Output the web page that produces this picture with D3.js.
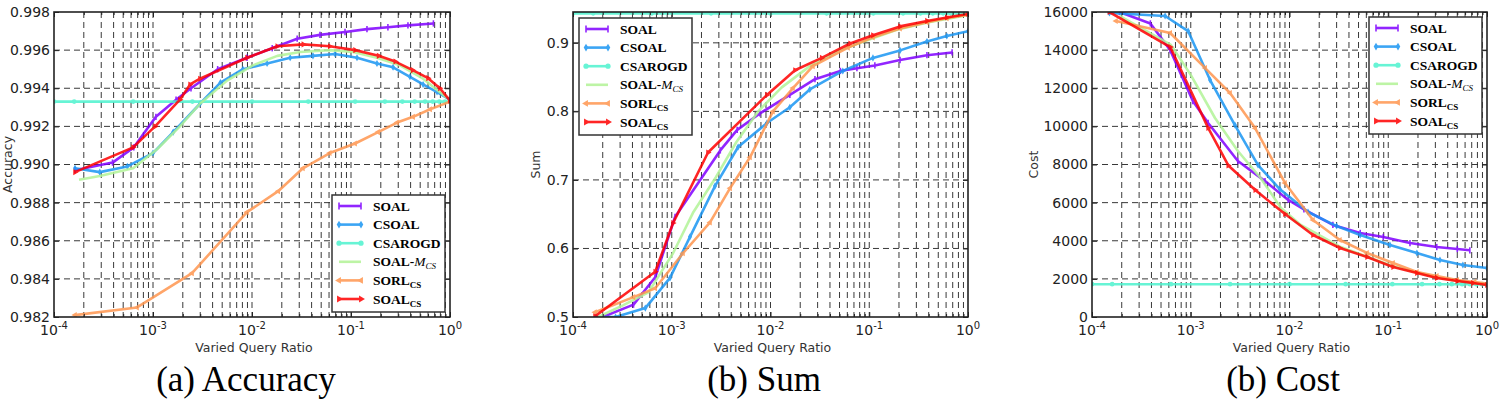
<!DOCTYPE html>
<html><head><meta charset="utf-8">
<script src="https://cdn.jsdelivr.net/npm/d3@7"></script>
<style>body{margin:0;background:#fff}svg{display:block}</style>
</head><body>
<svg id="c" width="1510" height="404"></svg>
<script>
// ---------------- data ----------------
const seriesNames = ["SOAL", "CSOAL", "CSAROGD", "SOAL-M_CS", "SORL_CS", "SOAL_CS"];
const xDecades = [1e-4, 1e-3, 1e-2, 1e-1, 1];
const xTickExponents = ["-4", "-3", "-2", "-1", "0"];
const accTicks = [0.982, 0.984, 0.986, 0.988, 0.990, 0.992, 0.994, 0.996, 0.998];
const sumTicks = [0.5, 0.6, 0.7, 0.8, 0.9];
const costTicks = [0, 2000, 4000, 6000, 8000, 10000, 12000, 14000, 16000];
const panelTitles = ["(a) Accuracy", "(b) Sum", "(b) Cost"];
const yLabels = ["Accuracy", "Sum", "Cost"];
const xLabel = "Varied Query Ratio";

// (a) Accuracy  [query ratio, value]
const accSOAL = [[1.63e-4,0.9897],[3.9e-4,0.9901],[6.4e-4,0.9909],[1.07e-3,0.9925],[1.71e-3,0.9934],[2.42e-3,0.9940],[4.5e-3,0.9950],[8.9e-3,0.9956],[1.6e-2,0.9961],[2.86e-2,0.9966],[4.86e-2,0.9968],[8.7e-2,0.99695],[1.45e-1,0.9971],[2.36e-1,0.9972],[3.76e-1,0.9973],[6.8e-1,0.9974]];
const accCSOAL = [[1.63e-4,0.9898],[2.9e-4,0.9896],[5.5e-4,0.9899],[1.0e-3,0.9906],[1.6e-3,0.9917],[3.0e-3,0.9932],[4.8e-3,0.9943],[8.1e-3,0.9950],[1.42e-2,0.9953],[2.43e-2,0.9956],[4.13e-2,0.9957],[6.9e-2,0.9958],[1.15e-1,0.9956],[1.83e-1,0.9953],[2.66e-1,0.9951],[3.94e-1,0.9946],[5.35e-1,0.9942],[7.4e-1,0.9938],[1.0,0.9934]];
const accCSAROGD = [[1e-4,0.9933],[1.6e-4,0.9933],[6.3e-4,0.9933],[2.5e-3,0.9933],[1e-2,0.9933],[3.7e-2,0.9933],[1.1e-1,0.9933],[2.2e-1,0.9933],[3.3e-1,0.9933],[4.4e-1,0.9933],[5.6e-1,0.9933],[6.7e-1,0.9933],[7.8e-1,0.9933],[8.9e-1,0.9933],[1.0,0.9933]];
const accSOALM = [[1.79e-4,0.9892],[2.9e-4,0.9894],[6.3e-4,0.9898],[1.1e-3,0.9908],[1.87e-3,0.9920],[3.0e-3,0.9932],[5.6e-3,0.9944],[1.02e-2,0.9952],[1.8e-2,0.9957],[3.06e-2,0.9959],[6.1e-2,0.9960],[1.05e-1,0.9959],[1.83e-1,0.9956],[3.13e-1,0.9952],[5.35e-1,0.9945],[9.3e-1,0.9935]];
const accSORL = [[1.63e-4,0.9821],[6.9e-4,0.9825],[2.48e-3,0.9843],[8.9e-3,0.9875],[1.84e-2,0.9886],[3.27e-2,0.9898],[6.1e-2,0.9906],[1.1e-1,0.9911],[1.88e-1,0.9917],[2.92e-1,0.9922],[4.24e-1,0.9925],[6.3e-1,0.9929],[1.0,0.9933]];
const accSOALCS = [[1.63e-4,0.9896],[6.3e-4,0.9909],[1.05e-3,0.9920],[1.87e-3,0.9934],[2.37e-3,0.9942],[2.98e-3,0.9945],[8.9e-3,0.9956],[1.8e-2,0.9962],[3.3e-2,0.9963],[6.1e-2,0.9962],[1.1e-1,0.9960],[1.9e-1,0.9957],[2.8e-1,0.9954],[4.2e-1,0.99495],[6.0e-1,0.99453],[7.9e-1,0.9940],[1.0,0.99335]];

// (b) Sum
const sumSOAL = [[2.0e-4,0.500],[4.1e-4,0.518],[6.8e-4,0.558],[1.08e-3,0.646],[3.1e-3,0.743],[4.6e-3,0.773],[7.8e-3,0.797],[1.57e-2,0.824],[2.82e-2,0.847],[5.1e-2,0.859],[7.5e-2,0.863],[1.14e-1,0.867],[2.05e-1,0.875],[3.84e-1,0.882],[6.9e-1,0.886]];
const sumCSOAL = [[1.7e-4,0.500],[2.7e-4,0.500],[5.4e-4,0.513],[9.6e-4,0.557],[1.53e-3,0.617],[2.74e-3,0.691],[4.7e-3,0.748],[9.2e-3,0.783],[1.57e-2,0.806],[2.5e-2,0.832],[5.4e-2,0.859],[1.09e-1,0.878],[2.05e-1,0.889],[3.84e-1,0.902],[6.1e-1,0.910],[1.0,0.917]];
const sumCSAROGD = [[1e-4,0.943],[1.6e-4,0.943],[6.3e-4,0.943],[2.5e-3,0.943],[1e-2,0.943],[3.7e-2,0.943],[1.1e-1,0.943],[2.2e-1,0.943],[3.3e-1,0.943],[4.4e-1,0.943],[5.6e-1,0.943],[6.7e-1,0.943],[7.8e-1,0.943],[8.9e-1,0.943],[1.0,0.943]];
const sumSOALM = [[1.8e-4,0.500],[3.2e-4,0.517],[5.8e-4,0.536],[1.03e-3,0.593],[1.64e-3,0.652],[2.8e-3,0.704],[4.5e-3,0.755],[7.5e-3,0.800],[1.3e-2,0.835],[2.5e-2,0.866],[5e-2,0.889],[1e-1,0.905],[2e-1,0.920],[4e-1,0.930],[9.5e-1,0.940]];
const sumSORL = [[1.67e-4,0.507],[4.1e-4,0.529],[6.8e-4,0.542],[1.3e-3,0.593],[2.44e-3,0.638],[3.9e-3,0.688],[6.2e-3,0.733],[1.06e-2,0.800],[1.69e-2,0.834],[2.69e-2,0.866],[6.1e-2,0.893],[1.09e-1,0.908],[2.05e-1,0.921],[3.84e-1,0.930],[6.1e-1,0.936],[1.0,0.941]];
const sumSOALCS = [[1.67e-4,0.501],[6.8e-4,0.566],[1.03e-3,0.637],[2.33e-3,0.740],[9.2e-3,0.824],[1.77e-2,0.860],[3.3e-2,0.878],[6.4e-2,0.899],[1.09e-1,0.911],[2.05e-1,0.924],[3.84e-1,0.932],[6.1e-1,0.937],[1.0,0.942]];

// (c) Cost
const costSOAL = [[1.9e-4,16000],[3.9e-4,15400],[6.2e-4,14000],[1.05e-3,11330],[1.5e-3,10180],[3.0e-3,8180],[5.65e-3,7130],[9.7e-3,6140],[1.4e-2,5650],[2.75e-2,4830],[5.2e-2,4410],[8.9e-2,4200],[1.66e-1,3880],[3.1e-1,3670],[5.0e-1,3570],[6.7e-1,3500]];
const costCSOAL = [[1.5e-4,15950],[5.5e-4,15790],[9.4e-4,15000],[1.57e-3,12430],[2.8e-3,10070],[4.8e-3,7970],[8.0e-3,6700],[1.54e-2,5510],[3.0e-2,4770],[5.2e-2,4300],[1.04e-1,3780],[1.95e-1,3360],[3.34e-1,2990],[5.7e-1,2730],[1.0,2570]];
const costCSAROGD = [[1e-4,1720],[1.6e-4,1720],[6.3e-4,1720],[2.5e-3,1720],[1e-2,1720],[3.7e-2,1720],[1.1e-1,1720],[2.2e-1,1720],[3.3e-1,1720],[4.4e-1,1720],[5.6e-1,1720],[6.7e-1,1720],[7.8e-1,1720],[8.9e-1,1720],[1.0,1720]];
const costSOALM = [[1.9e-4,15800],[6.3e-4,14270],[1.0e-3,12700],[1.76e-3,10440],[3.0e-3,8710],[5.1e-3,7290],[8.2e-3,5720],[1.3e-2,4830],[2.0e-2,4300],[3.2e-2,3700],[6e-2,3180],[1.1e-1,2680],[2e-1,2320],[3.1e-1,2070],[5e-1,1900],[1.0,1720]];
const costSORL = [[1.75e-4,15530],[6.2e-4,14900],[1.4e-3,13060],[2.5e-3,11750],[4.5e-3,9900],[9.0e-3,7030],[1.73e-2,5090],[3.24e-2,4040],[6.1e-2,3360],[1.12e-1,2830],[1.95e-1,2360],[3.1e-1,2150],[5e-1,1940],[7.5e-1,1840],[1.0,1750]];
const costSOALCS = [[1.5e-4,16000],[6.2e-4,14160],[1.5e-3,9920],[2.4e-3,7950],[4.5e-3,6660],[9.0e-3,5400],[1.73e-2,4300],[3.24e-2,3620],[6.1e-2,3150],[1.12e-1,2620],[1.95e-1,2310],[3.1e-1,2050],[5e-1,1890],[7.2e-1,1780],[1.0,1680]];

// ---------------- styles ----------------
const colors = ["#8000ff", "#1a96f3", "#4df3ce", "#b2f396", "#ff964f", "#ff0000"];
const markers = ["vline", "diamond", "circle", "none", "triLeft", "triRight"];

const panels = [
  {left:54, right:450, top:12, bottom:317, yDomain:[0.982,0.998], ticks:accTicks, fmt:d3.format(".3f"),
   yLabelX:12, titleX:246, legend:{x:332,y:195}, data:[accSOAL,accCSOAL,accCSAROGD,accSOALM,accSORL,accSOALCS]},
  {left:573, right:968, top:12, bottom:317, yDomain:[0.5,0.945], ticks:sumTicks, fmt:d3.format(".1f"),
   yLabelX:540, titleX:764, legend:{x:579,y:18}, data:[sumSOAL,sumCSOAL,sumCSAROGD,sumSOALM,sumSORL,sumSOALCS]},
  {left:1092, right:1487, top:12, bottom:317, yDomain:[0,16000], ticks:costTicks, fmt:d3.format("d"),
   yLabelX:1038, titleX:1283, legend:{x:1369,y:17}, data:[costSOAL,costCSOAL,costCSAROGD,costSOALM,costSORL,costSOALCS]}
];

const svg = d3.select("#c");
const sans = "'DejaVu Sans', sans-serif";
const serif = "'Liberation Serif', 'Times New Roman', serif";

function drawMarker(g, type, cx, cy, color, s) {
  s = s || 1;
  if (type === "none") return;
  if (type === "vline") {
    g.append("line").attr("x1",cx).attr("x2",cx).attr("y1",cy-3.5*s).attr("y2",cy+3.5*s)
      .attr("stroke",color).attr("stroke-width",1.6);
  } else if (type === "circle") {
    g.append("circle").attr("cx",cx).attr("cy",cy).attr("r",2.6*s).attr("fill",color);
  } else if (type === "diamond") {
    g.append("path").attr("d",d3.symbol(d3.symbolDiamond, 18*s*s)()).attr("transform",`translate(${cx},${cy})`).attr("fill",color);
  } else if (type === "triLeft" || type === "triRight") {
    const rot = type === "triLeft" ? -90 : 90;
    g.append("path").attr("d",d3.symbol(d3.symbolTriangle, 20*s*s)()).attr("transform",`translate(${cx},${cy}) rotate(${rot})`).attr("fill",color);
  }
}

function legendLabel(t, name) {
  t.attr("font-family", serif).attr("font-size", 13.5).attr("fill", "#000");
  if (name === "SOAL-M_CS") {
    t.append("tspan").attr("font-weight","bold").text("SOAL-");
    t.append("tspan").attr("font-style","italic").text("M");
    t.append("tspan").attr("font-style","italic").attr("font-size",9).attr("dy",3).text("CS");
  } else if (name === "SORL_CS" || name === "SOAL_CS") {
    t.append("tspan").attr("font-weight","bold").text(name.split("_")[0]);
    t.append("tspan").attr("font-weight","bold").attr("font-size",9).attr("dy",3).text("CS");
  } else {
    t.append("tspan").attr("font-weight","bold").text(name);
  }
}

panels.forEach((p, pi) => {
  const x = d3.scaleLog().domain([1e-4, 1]).range([p.left, p.right]);
  const y = d3.scaleLinear().domain(p.yDomain).range([p.bottom, p.top]);
  const g = svg.append("g");
  const clipId = "clip" + pi;
  svg.append("clipPath").attr("id", clipId).append("rect")
    .attr("x", p.left).attr("y", p.top).attr("width", p.right - p.left).attr("height", p.bottom - p.top);

  // grid
  const minors = [];
  xDecades.slice(0, 4).forEach(d => { for (let k = 2; k <= 9; k++) minors.push(k * d); });
  const gridX = minors.concat(xDecades.slice(1, 4));
  g.append("g").selectAll("line").data(gridX).join("line")
    .attr("x1", d => x(d)).attr("x2", d => x(d)).attr("y1", p.top).attr("y2", p.bottom)
    .attr("stroke", "#222").attr("stroke-width", 0.9).attr("stroke-dasharray", "6,4");
  g.append("g").selectAll("line").data(p.ticks.filter(t => y(t) > p.top + 1 && y(t) < p.bottom - 1)).join("line")
    .attr("x1", p.left).attr("x2", p.right).attr("y1", d => y(d)).attr("y2", d => y(d))
    .attr("stroke", "#222").attr("stroke-width", 0.9).attr("stroke-dasharray", "6,4");

  // series
  const sg = g.append("g").attr("clip-path", `url(#${clipId})`);
  const line = d3.line().x(d => x(d[0])).y(d => y(d[1]));
  p.data.forEach((ser, si) => {
    const grp = sg.append("g").attr("opacity", 0.85);
    grp.append("path").attr("d", line(ser)).attr("fill", "none")
      .attr("stroke", colors[si]).attr("stroke-width", 2.6).attr("stroke-linejoin", "round");
    ser.forEach(d => drawMarker(grp, markers[si], x(d[0]), y(d[1]), colors[si], 0.9));
  });

  // axes (ticks inward)
  const yAxisL = d3.axisLeft(y).tickValues(p.ticks).tickSizeInner(-5).tickSizeOuter(0).tickPadding(4).tickFormat(p.fmt);
  const yAxisR = d3.axisRight(y).tickValues(p.ticks).tickSizeInner(-5).tickSizeOuter(0).tickFormat("");
  const xAxisB = d3.axisBottom(x).tickValues(xDecades).tickSizeInner(-5).tickSizeOuter(0).tickFormat("");
  const xAxisT = d3.axisTop(x).tickValues(xDecades).tickSizeInner(-5).tickSizeOuter(0).tickFormat("");
  const xMinB = d3.axisBottom(x).tickValues(minors).tickSizeInner(-3).tickSizeOuter(0).tickFormat("");
  const xMinT = d3.axisTop(x).tickValues(minors).tickSizeInner(-3).tickSizeOuter(0).tickFormat("");
  const axes = [
    [yAxisL, `translate(${p.left},0)`], [yAxisR, `translate(${p.right},0)`],
    [xAxisB, `translate(0,${p.bottom})`], [xAxisT, `translate(0,${p.top})`],
    [xMinB, `translate(0,${p.bottom})`], [xMinT, `translate(0,${p.top})`]
  ];
  axes.forEach(([ax, tr]) => {
    const a = g.append("g").attr("transform", tr).call(ax);
    a.select(".domain").remove();
    a.selectAll(".tick line").attr("stroke", "#222").attr("stroke-width", 1);
    a.selectAll(".tick text").attr("font-family", sans).attr("font-size", 14).attr("fill", "#222");
  });

  // x tick labels 10^n
  g.append("g").selectAll("text").data(xDecades).join("text")
    .attr("x", d => x(d)).attr("y", 335).attr("text-anchor", "middle")
    .attr("font-family", sans).attr("font-size", 14).attr("fill", "#222")
    .each(function(d, i) {
      const t = d3.select(this);
      t.append("tspan").text("10");
      t.append("tspan").attr("font-size", 10).attr("dy", -6).text(xTickExponents[i]);
    });

  // frame
  g.append("rect").attr("x", p.left).attr("y", p.top).attr("width", p.right - p.left).attr("height", p.bottom - p.top)
    .attr("fill", "none").attr("stroke", "#222").attr("stroke-width", 1.6);

  // axis labels
  g.append("text").attr("x", (p.left + p.right) / 2 + 2).attr("y", 352).attr("text-anchor", "middle")
    .attr("font-family", sans).attr("font-size", 12.5).attr("fill", "#333").text(xLabel);
  g.append("text").attr("transform", `translate(${p.yLabelX},${(p.top + p.bottom) / 2}) rotate(-90)`)
    .attr("text-anchor", "middle").attr("font-family", sans).attr("font-size", 12.5).attr("fill", "#333").text(yLabels[pi]);

  // title
  g.append("text").attr("x", p.titleX).attr("y", 391).attr("text-anchor", "middle")
    .attr("font-family", serif).attr("font-size", 35).attr("fill", "#000").text(panelTitles[pi]);

  // legend
  const L = g.append("g").attr("transform", `translate(${p.legend.x},${p.legend.y})`);
  L.append("rect").attr("width", 113).attr("height", 117).attr("fill", "#fff")
    .attr("stroke", "#333").attr("stroke-width", 1.5);
  seriesNames.forEach((nm, si) => {
    const yy = 11 + si * 18.6;
    const lg = L.append("g").attr("opacity", 0.85);
    lg.append("line").attr("x1", 7).attr("x2", 29).attr("y1", yy).attr("y2", yy)
      .attr("stroke", colors[si]).attr("stroke-width", 2.6);
    drawMarker(lg, markers[si], 7, yy, colors[si], 1);
    drawMarker(lg, markers[si], 29, yy, colors[si], 1);
    const t = L.append("text").attr("x", 41).attr("y", yy + 4.5);
    legendLabel(t, nm);
  });
});
</script>
</body></html>
